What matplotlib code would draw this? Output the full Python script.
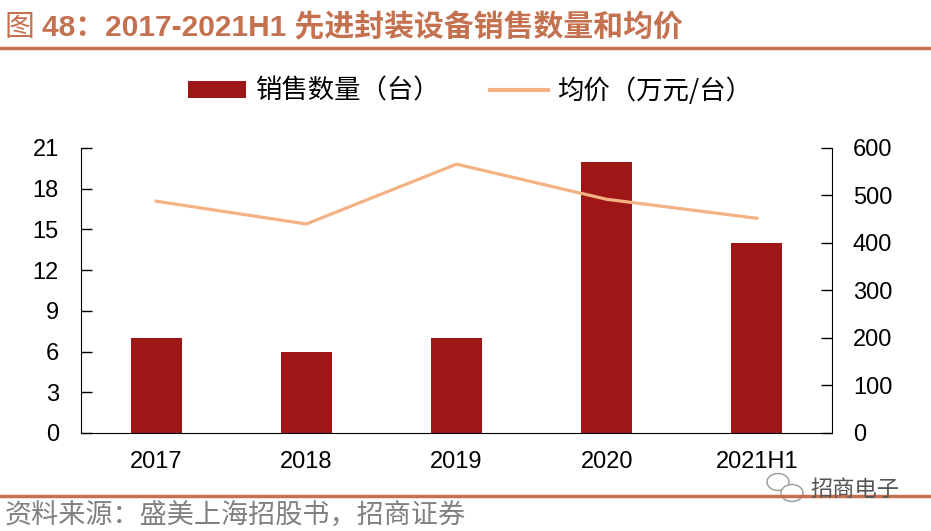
import matplotlib
matplotlib.use("Agg")
import matplotlib.pyplot as plt
from matplotlib.lines import Line2D
from matplotlib.patches import Ellipse, Patch
import numpy as np

categories = ["2017", "2018", "2019", "2020", "2021H1"]
sales_qty = [7, 6, 7, 20, 14]
avg_price = [488, 440, 566, 492, 452]
left_ticks = [0, 3, 6, 9, 12, 15, 18, 21]
right_ticks = [0, 100, 200, 300, 400, 500, 600]

BAR = "#9E1716"
LINE = "#F4B183"
RUST = "#C47150"
LAT = ["Liberation Sans", "Noto Sans CJK SC", "DejaVu Sans"]
CJK = ["Noto Sans CJK SC", "DejaVu Sans"]

fig = plt.figure(figsize=(9.31, 5.31), dpi=100)
ax = fig.add_axes([0.0870, 0.1846, 0.8067, 0.5367])
x = np.arange(len(categories))
ax.bar(x, sales_qty, width=0.34, color=BAR, zorder=2)
ax.set_xlim(-0.5, len(categories) - 0.5)
ax.set_ylim(0, 21)
ax.set_yticks(left_ticks)
ax.set_xticks(x)
ax.set_xticklabels(categories)
for s in ["top", "right"]:
    ax.spines[s].set_visible(False)
ax.tick_params(axis="y", direction="in", length=8, width=1, pad=16, labelsize=17)
ax.tick_params(axis="x", length=0, pad=13, labelsize=17)
for lab in ax.get_xticklabels() + ax.get_yticklabels():
    lab.set_family(LAT)

ax2 = ax.twinx()
ax2.plot(x, avg_price, color=LINE, lw=2.3, zorder=3)
ax2.set_ylim(0, 600)
ax2.set_yticks(right_ticks)
for s in ["top", "left", "bottom"]:
    ax2.spines[s].set_visible(False)
ax2.tick_params(axis="y", direction="in", length=8, width=1, pad=15, labelsize=17)
for lab in ax2.get_yticklabels():
    lab.set_family(LAT)

handles = [Patch(facecolor=BAR, edgecolor="none", label="销售数量（台）"),
           Line2D([0], [0], color=LINE, lw=3, label="均价（万元/台）")]
fig.legend(handles=handles, loc="center", bbox_to_anchor=(0.505, 0.829), ncol=2,
           frameon=False, prop={"family": CJK, "size": 19},
           handlelength=2.2, handleheight=0.6, handletextpad=0.35, columnspacing=1.9)

# Title
fig.text(0.005, 0.948, "图", fontsize=21.5, color=RUST, family=CJK, va="center")
fig.text(0.045, 0.948, "48：2017-2021H1 先进封装设备销售数量和均价", fontsize=21.5,
         color=RUST, family=LAT, weight="bold", va="center")
fig.add_artist(Line2D([0, 1], [1 - 47.5 / 531, 1 - 47.5 / 531], color=RUST, lw=2.5,
                      transform=fig.transFigure))

# Footer
fig.add_artist(Line2D([0, 1], [1 - 496 / 531, 1 - 496 / 531], color=RUST, lw=2.5,
                      transform=fig.transFigure))
fig.text(0.005, 1 - 516 / 531, "资料来源：盛美上海招股书，招商证券", fontsize=19.5,
         color="#808080", family=CJK, va="center")

# Watermark
for (cx, cy, w, h) in [(778, 482, 22, 17), (792, 493, 22, 17)]:
    e = Ellipse((cx / 931, 1 - cy / 531), w / 931, h / 531, transform=fig.transFigure,
                facecolor="white", edgecolor="#9a9a9a", lw=1)
    fig.add_artist(e)
fig.text(810 / 931, 1 - 489 / 531, "招商电子", fontsize=16, color="#555555",
         family=CJK, va="center")

fig.savefig("out.png", dpi=100)
